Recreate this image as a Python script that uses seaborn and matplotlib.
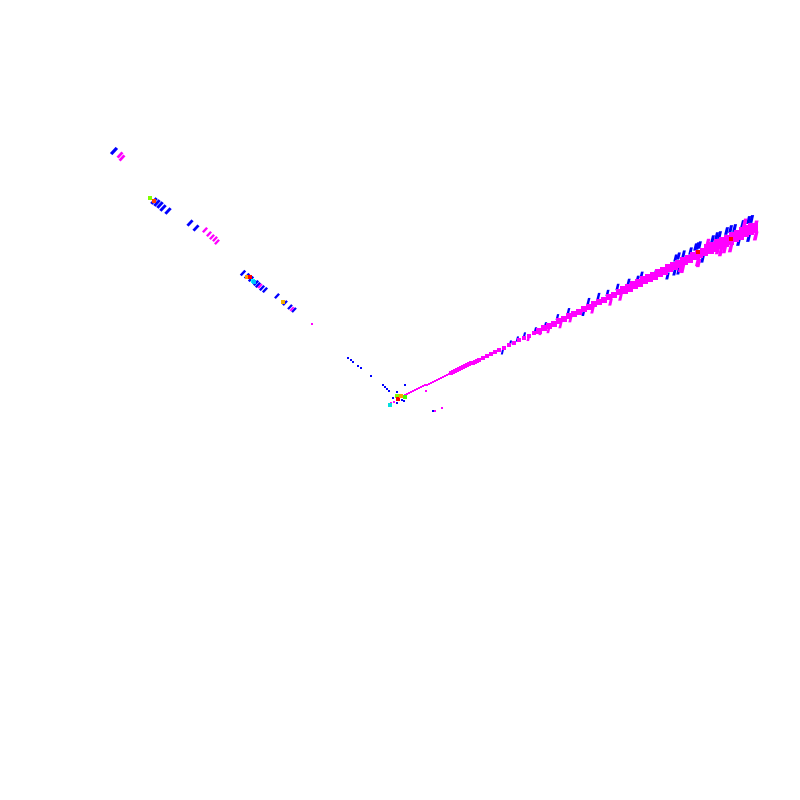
import numpy as np
import pandas as pd
import seaborn as sns
import matplotlib.pyplot as plt

# main arm, thick magenta band
band_x = [6, 8, 10, 12, 14, 16, 18, 20, 22, 24, 26, 28, 30, 32, 34, 36, 38, 40, 42, 44, 46, 48, 50, 52, 54, 56, 58,
          60, 62, 64, 66, 68, 70, 72, 74, 76, 78, 80, 84, 88, 92, 96, 100,
          105, 110, 115, 120, 125, 130, 135, 140, 145, 150, 155, 160, 165, 170, 175, 180, 185, 190, 195, 200,
          205, 210, 215, 220, 225, 230, 235, 240, 245, 250, 255, 260, 265, 270, 275, 280, 285, 290, 295, 300,
          305, 310, 315, 320, 325, 330, 335, 340, 345, 350, 354]
band_y = [3, 4, 5, 6, 7, 8, 9, 10, 11, 12, 13, 13, 14, 15, 16, 17, 18, 19, 20, 21, 22, 23, 24, 25, 26, 27, 28,
          29, 30, 31, 32, 33, 34, 35, 35, 36, 37, 38, 40, 42, 44, 46, 48,
          50, 53, 55, 58, 60, 62, 65, 67, 70, 72, 74, 77, 79, 82, 84, 86, 89, 91, 94, 96,
          98, 101, 103, 106, 108, 110, 113, 115, 118, 120, 122, 125, 127, 130, 132, 134, 137, 139, 142, 144,
          146, 149, 151, 154, 156, 158, 161, 163, 166, 168, 170]

# short ticks beside the band and along the left arm
blue_x = [103, 111, 118, 125, 136, 146, 158, 169, 184, 189, 199, 208, 218, 229, 238, 242, 256, 268, 275, 276,
          279, 279, 284, 291, 296, 298, 300, 303, 313, 317, 320, 327, 331, 335, 339, 343, 349, 349, 352,
          -285, -245, -242, -239, -236, -231, -209, -203,
          -156, -152, -148, -143, -141, -137, -134, -122, -114, -109, -105]
blue_y = [46, 55, 59, 63, 68, 73, 81, 87, 85, 97, 102, 105, 111, 116, 119, 123, 125, 122, 126, 140,
          142, 127, 144, 147, 151, 152, 153, 139, 159, 162, 163, 167, 169, 170, 156, 174, 178, 160, 179,
          247, 197, 195, 193, 190, 187, 175, 170,
          125, 122, 119, 115, 113, 110, 108, 102, 95, 91, 88]

# tiny blue points around the centre
blue_near_x = [-51, -48, -46, -41, -38, -28, -16, -14, -12, -10, 6, -2, 0, -6, -2, 3, 5, 34]
blue_near_y = [40, 38, 36, 32, 30, 22, 13, 11, 9, 7, 13, 6, 3, 0, -5, -2, -3, -13]

magenta_x = [129, 141, 149, 161, 171, 193, 211, 221, 281, 283, 298, 299, 308, 318, 321, 325, 331, 345, 356, 356,
             -279, -277, -194, -190, -187, -184, -182, -139, -107]
magenta_y = [60, 66, 68, 73, 79, 88, 96, 101, 130, 129, 136, 135, 155, 148, 146, 149, 150, 175, 162, 173,
             243, 240, 168, 164, 161, 159, 156, 112, 89]

magenta_near_x = [-87, 27, 36, 43, -8, -5, 2]
magenta_near_y = [74, 7, -13, -10, -5, -4, 1]

# the few points in other colours
other_x = [332, 299, -249, -245, -152, -149, -146, -145, -116, -9, 6, -2, -1, 2]
other_y = [159, 146, 200, 197, 121, 121, 117, 116, 96, -7, 1, 2, -1, 2]
other_c = ['#ff0000', '#ff0000', '#80ff00', '#ff4000', '#ffa000', '#ff0000', '#00ffff', '#00c0ff', '#f0b000',
           '#00e0e0', '#40ff00', '#80ff00', '#ff0000', '#ffa000']


def tick_sizes(x, y):
    # marks get bigger further out from the centre
    d = np.hypot(x, y)
    return 4 + 20 * (d / 390)


fig = plt.figure(figsize=(8, 8), dpi=100)
ax = fig.add_axes([0, 0, 1, 1])
sns.set_style("white")

stroke = [(-0.5, -1), (0.35, -1), (0.8, 1), (0.0, 1)]
diag = [(-1, -0.5), (-0.4, -1), (1, 0.5), (0.4, 1)]

df_blue = pd.DataFrame({"x": blue_x, "y": blue_y})
df_mag = pd.DataFrame({"x": magenta_x, "y": magenta_y})
df_band = pd.DataFrame({"x": band_x, "y": band_y})
df_other = pd.DataFrame({"x": other_x, "y": other_y})

right = df_blue[df_blue.x > 0]
left = df_blue[df_blue.x <= 0]
sns.scatterplot(data=right, x="x", y="y", color="#0000ff", marker=stroke, linewidth=0,
                s=tick_sizes(right.x, right.y) * 1.3, ax=ax, legend=False)
sns.scatterplot(data=left, x="x", y="y", color="#0000ff", marker=diag, linewidth=0,
                s=tick_sizes(left.x, left.y) * 1.5, ax=ax, legend=False)
sns.scatterplot(x=blue_near_x, y=blue_near_y, color="#0000ff", marker="s", linewidth=0, s=1.6,
                ax=ax, legend=False)

# band, square marks step like the original
band_size = (1.3 + 6.0 * (df_band.x / 355)) ** 2
sns.scatterplot(data=df_band, x="x", y="y", color="#ff00ff", marker="s", linewidth=0,
                s=band_size, ax=ax, legend=False)

right = df_mag[df_mag.x > 0]
left = df_mag[df_mag.x <= 0]
sns.scatterplot(data=right, x="x", y="y", color="#ff00ff", marker=stroke, linewidth=0,
                s=tick_sizes(right.x, right.y) * 1.7, ax=ax, legend=False)
sns.scatterplot(data=left, x="x", y="y", color="#ff00ff", marker=diag, linewidth=0,
                s=tick_sizes(left.x, left.y) * 1.1, ax=ax, legend=False)
sns.scatterplot(x=magenta_near_x, y=magenta_near_y, color="#ff00ff", marker="s", linewidth=0, s=2.2,
                ax=ax, legend=False)

sns.scatterplot(data=df_other, x="x", y="y", hue=other_c, palette={c: c for c in set(other_c)},
                marker="s", linewidth=0, s=5, ax=ax, legend=False)

ax.set_xlim(-399, 401)
ax.set_ylim(-402, 398)
ax.set_axis_off()

fig.savefig("out.png", dpi=100)
plt.close()
